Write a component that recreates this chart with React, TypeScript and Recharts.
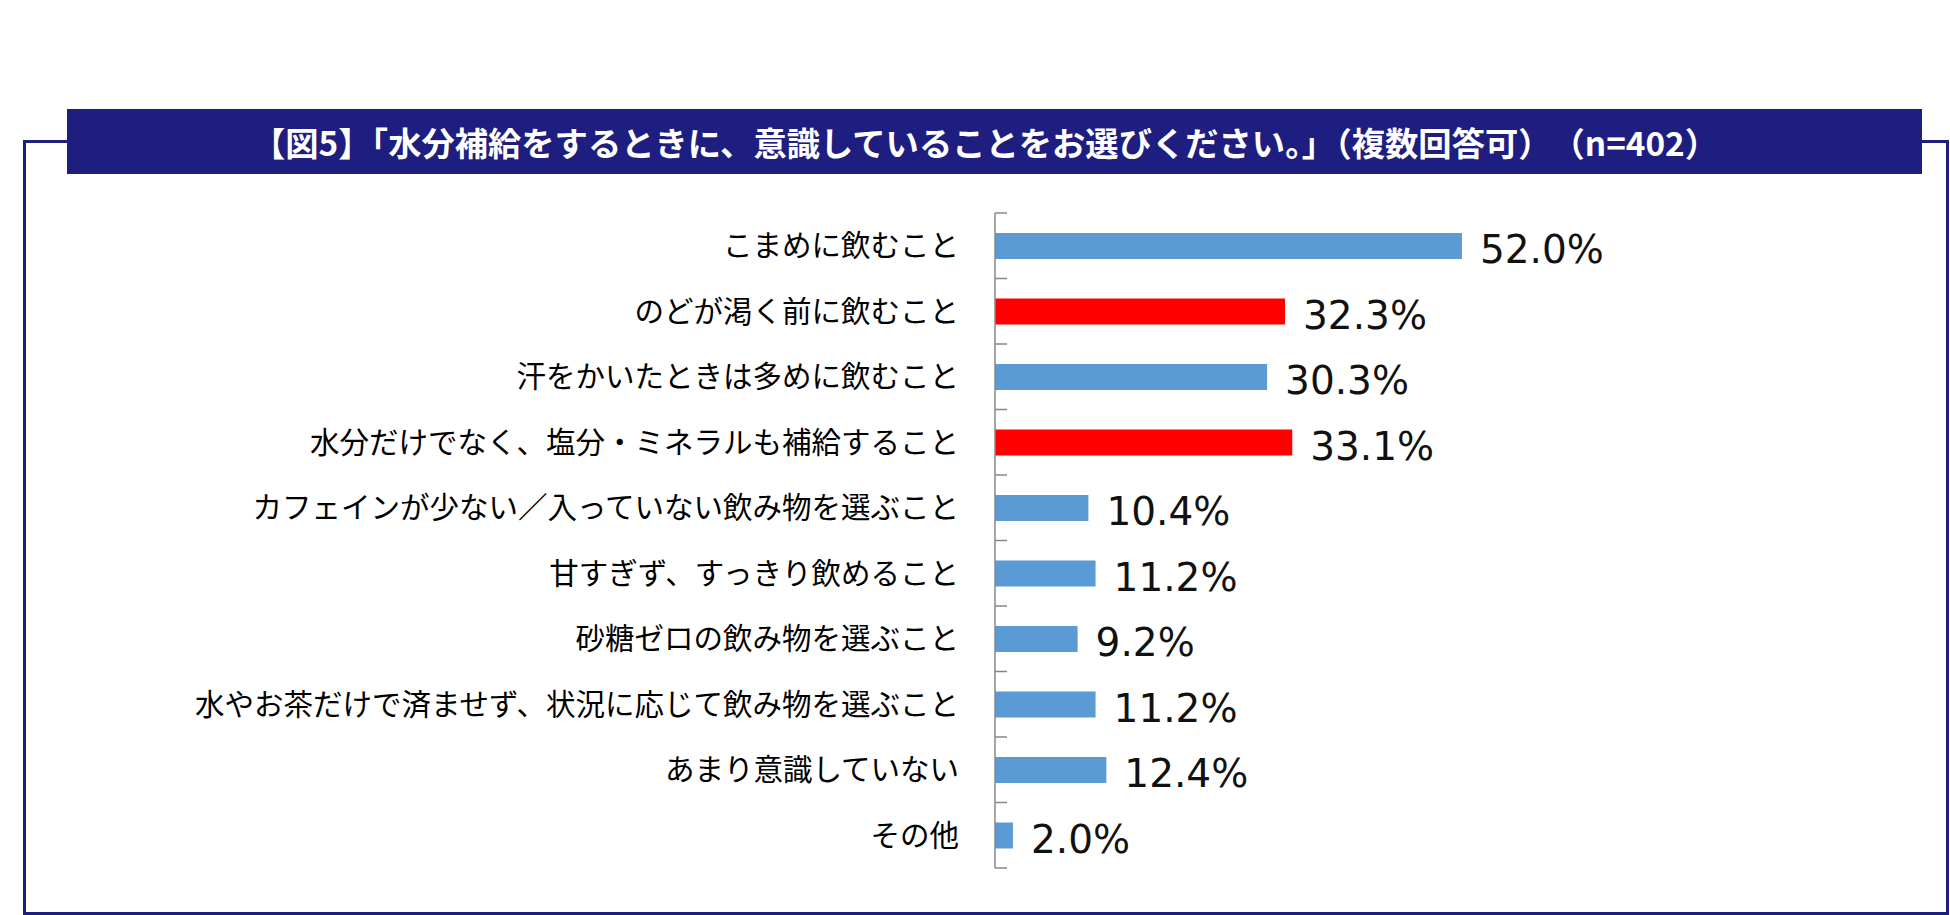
import { Bar, BarChart, Cell, LabelList, XAxis, YAxis } from "recharts";

// 水分補給で意識していること（複数回答可, n=402）
const categories = [
  "こまめに飲むこと",
  "のどが渇く前に飲むこと",
  "汗をかいたときは多めに飲むこと",
  "水分だけでなく、塩分・ミネラルも補給すること",
  "カフェインが少ない／入っていない飲み物を選ぶこと",
  "甘すぎず、すっきり飲めること",
  "砂糖ゼロの飲み物を選ぶこと",
  "水やお茶だけで済ませず、状況に応じて飲み物を選ぶこと",
  "あまり意識していない",
  "その他",
];
const values = [52.0, 32.3, 30.3, 33.1, 10.4, 11.2, 9.2, 11.2, 12.4, 2.0];
const highlighted = ["のどが渇く前に飲むこと", "水分だけでなく、塩分・ミネラルも補給すること"];

const data = categories.map((name, i) => ({ name, value: values[i] }));

const NAVY = "#1e1e80";
const BLUE = "#5b9bd5";
const RED = "#ff0000";
const AXIS_GRAY = "#878787";

const CHART_W = 1950;
const CHART_H = 915;
const MARGIN = { top: 213, right: 57, bottom: 47, left: 0 };
const AXIS_W = 995;
const LABEL_GAP = 36;
const TICK_LEN = 12;
const band = (CHART_H - MARGIN.top - MARGIN.bottom) / categories.length;

// category label plus the Excel-style tick marks that sit between categories
const CategoryTick = (props: any) => {
  const { x, y, payload, index } = props;
  const axisX = x + LABEL_GAP;
  const isLast = index === categories.length - 1;
  return (
    <g>
      <line x1={axisX} x2={axisX + TICK_LEN} y1={y - band / 2} y2={y - band / 2} stroke={AXIS_GRAY} strokeWidth={1.5} />
      {isLast && (
        <line x1={axisX} x2={axisX + TICK_LEN} y1={y + band / 2} y2={y + band / 2} stroke={AXIS_GRAY} strokeWidth={1.5} />
      )}
      <text
        x={x}
        y={y}
        dy="0.36em"
        textAnchor="end"
        fontFamily="'Noto Sans CJK JP', sans-serif"
        fontSize={29.5}
        fill="#000"
      >
        {payload.value}
      </text>
    </g>
  );
};

const ValueLabel = (props: any) => {
  const { x, y, width, height, value } = props;
  return (
    <text
      x={x + width + 18}
      y={y + height / 2}
      dy={17}
      fontFamily="'DejaVu Sans', sans-serif"
      fontSize={39}
      fill="#111"
    >
      {Number(value).toFixed(1)}%
    </text>
  );
};

export default function App() {
  return (
    <div style={{ position: "relative", width: 1950, height: 915, background: "#fff", overflow: "hidden" }}>
      <style>{`body { margin: 0; }`}</style>

      {/* outer frame */}
      <div
        style={{
          position: "absolute",
          left: 23,
          top: 140,
          width: 1926,
          height: 775,
          boxSizing: "border-box",
          border: `3px solid ${NAVY}`,
        }}
      />

      {/* title band */}
      <div
        style={{
          position: "absolute",
          left: 67,
          top: 109,
          width: 1855,
          height: 65,
          boxSizing: "border-box",
          paddingRight: 19,
          background: NAVY,
          display: "flex",
          alignItems: "center",
          justifyContent: "center",
          color: "#fff",
          fontFamily: "'Noto Sans CJK JP', sans-serif",
          fontWeight: 700,
          fontSize: 33.3,
          whiteSpace: "nowrap",
        }}
      >
        【図5】「水分補給をするときに、意識していることをお選びください。」（複数回答可）　（n=402）
      </div>

      <div style={{ position: "absolute", left: 0, top: 0 }}>
        <BarChart width={CHART_W} height={CHART_H} data={data} layout="vertical" margin={MARGIN}>
          <XAxis type="number" domain={[0, 100]} hide />
          <YAxis
            type="category"
            dataKey="name"
            width={AXIS_W}
            interval={0}
            tickLine={false}
            tickSize={0}
            tickMargin={LABEL_GAP}
            axisLine={{ stroke: AXIS_GRAY, strokeWidth: 1.5 }}
            tick={<CategoryTick />}
          />
          <Bar dataKey="value" barSize={26} isAnimationActive={false}>
            {data.map((d) => (
              <Cell key={d.name} fill={highlighted.includes(d.name) ? RED : BLUE} />
            ))}
            <LabelList dataKey="value" content={<ValueLabel />} />
          </Bar>
        </BarChart>
      </div>
    </div>
  );
}
